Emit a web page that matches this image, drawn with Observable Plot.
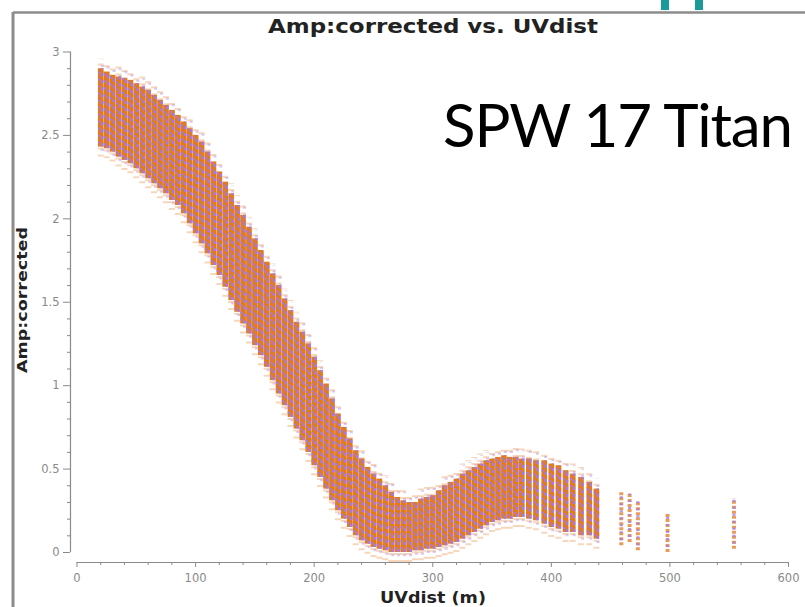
<!DOCTYPE html>
<html>
<head>
<meta charset="utf-8">
<script src="https://cdn.jsdelivr.net/npm/d3@7"></script>
<script src="https://cdn.jsdelivr.net/npm/@observablehq/plot@0.6"></script>
<style>
  html, body { margin: 0; padding: 0; background: #fff; }
  #chart { position: relative; width: 805px; height: 607px; overflow: hidden; }
</style>
</head>
<body>
<div id="chart"></div>
<script>
// ---- data (UV distance in m, amplitude range per baseline column) ----
const uvdist = [20,25,30,35,40,45,50,55,60,65,70,75,80,85,90,95,100,105,110,115,120,125,130,135,140,145,150,155,160,165,170,175,180,185,190,195,200,205,210,215,220,225,230,235,240,245,250,255,260,265,270,275,280,285,290,295,300,305,310,315,320,325,330,335,340,345,350,355,360,365,370,375,381,387,394,400,406,412,418,425,432,438];
const ampLow  = [2.43,2.42,2.40,2.37,2.35,2.33,2.30,2.27,2.24,2.21,2.18,2.15,2.11,2.08,2.03,1.97,1.91,1.85,1.79,1.72,1.66,1.59,1.51,1.44,1.37,1.31,1.24,1.18,1.11,1.03,0.95,0.88,0.81,0.74,0.67,0.60,0.52,0.45,0.38,0.31,0.25,0.20,0.15,0.10,0.07,0.05,0.03,0.02,0.01,0.00,0.00,0.00,0.00,0.01,0.01,0.02,0.02,0.03,0.04,0.05,0.06,0.08,0.10,0.12,0.14,0.16,0.18,0.19,0.20,0.20,0.21,0.21,0.20,0.19,0.17,0.15,0.14,0.12,0.12,0.10,0.10,0.08];
const ampHigh = [2.90,2.88,2.86,2.85,2.84,2.83,2.81,2.79,2.77,2.74,2.71,2.68,2.65,2.62,2.58,2.54,2.50,2.46,2.40,2.34,2.28,2.22,2.15,2.08,2.02,1.95,1.88,1.81,1.74,1.67,1.60,1.52,1.45,1.38,1.32,1.25,1.17,1.09,1.01,0.92,0.83,0.75,0.68,0.61,0.56,0.51,0.47,0.44,0.40,0.36,0.33,0.31,0.30,0.30,0.32,0.33,0.34,0.37,0.40,0.42,0.44,0.47,0.49,0.51,0.53,0.55,0.56,0.57,0.58,0.57,0.57,0.56,0.56,0.55,0.55,0.53,0.52,0.49,0.47,0.45,0.42,0.38];
// sparse long baselines
const outerUV   = [459,466,473,498,554];
const outerLow  = [0.04,0.06,0.01,0.00,0.02];
const outerHigh = [0.36,0.35,0.31,0.24,0.32];
// axis ticks
const xMajor = [0,100,200,300,400,500,600];
const xMinor = [20,40,60,80,120,140,160,180,220,240,260,280,320,340,360,380,420,440,460,480,520,540,560,580];
const yMajor = [0,0.5,1,1.5,2,2.5,3];
const yMinor = [0.1,0.2,0.3,0.4,0.6,0.7,0.8,0.9,1.1,1.2,1.3,1.4,1.6,1.7,1.8,1.9,2.1,2.2,2.3,2.4,2.6,2.7,2.8,2.9];

const main = uvdist.map((x, i) => ({x, lo: ampLow[i], hi: ampHigh[i]}));
const outer = outerUV.map((x, i) => ({x, lo: outerLow[i], hi: outerHigh[i]}));

const ORANGE = "#e27b1e";
const PURPLE = "#a47aea";
const tickColor = "#8a8a8a";

const plot = Plot.plot({
  width: 805,
  height: 607,
  marginLeft: 76.5,
  marginRight: 17,
  marginTop: 51.5,
  marginBottom: 55,
  style: {background: "transparent", fontFamily: "DejaVu Sans, sans-serif"},
  x: {domain: [0, 600], axis: null},
  y: {domain: [0, 3], axis: null},
  marks: [
    // fuzzy halo of scattered points
    Plot.ruleX(main, {x: "x", y1: d => d.lo - 0.06, y2: d => d.hi + 0.06, stroke: ORANGE, strokeOpacity: 0.3, strokeWidth: 6, strokeDasharray: "2,5"}),
    Plot.ruleX(main, {x: "x", y1: d => d.lo - 0.05, y2: d => d.hi + 0.05, stroke: PURPLE, strokeOpacity: 0.4, strokeWidth: 3, strokeDasharray: "2,5", strokeDashoffset: 3, dx: 1.5}),
    // dense core
    Plot.ruleX(main, {x: "x", y1: "lo", y2: "hi", stroke: ORANGE, strokeWidth: 5.6}),
    Plot.ruleX(main, {x: "x", y1: "lo", y2: "hi", stroke: PURPLE, strokeWidth: 2.6, strokeDasharray: "3,4", dx: 1.4}),
    Plot.ruleX(main, {x: "x", y1: "lo", y2: "hi", stroke: PURPLE, strokeWidth: 2.4, strokeDasharray: "2,5", strokeDashoffset: 4, dx: -1.4, strokeOpacity: 0.9}),
    // long baselines
    Plot.ruleX(outer, {x: "x", y1: "lo", y2: "hi", stroke: ORANGE, strokeWidth: 4, strokeOpacity: 0.75, strokeDasharray: "3,2"}),
    Plot.ruleX(outer, {x: "x", y1: "lo", y2: "hi", stroke: PURPLE, strokeWidth: 3, strokeOpacity: 0.8, strokeDasharray: "2,5", strokeDashoffset: 2}),
    // axes lines (detached)
    Plot.ruleX([0], {y1: 0, y2: 3, dx: -6.5, stroke: tickColor, strokeWidth: 1.2}),
    Plot.ruleY([0], {x1: 0, x2: 600, dy: 10, stroke: tickColor, strokeWidth: 1.2}),
    Plot.axisY({ticks: yMajor, tickSize: 7, tickPadding: 4, dx: -6.5, label: null, color: tickColor, fontSize: 11.5, tickFormat: d => String(d)}),
    Plot.axisY({ticks: yMinor, tickSize: 3, dx: -6.5, label: null, color: tickColor, text: null}),
    Plot.axisX({ticks: xMajor, tickSize: 5, tickPadding: 6, dy: 10, label: null, color: tickColor, fontSize: 11.5, tickFormat: d => String(d)}),
    Plot.axisX({ticks: xMinor, tickSize: 3, dy: 10, label: null, color: tickColor, text: null})
  ]
});

const container = document.getElementById("chart");
container.appendChild(plot);

// decorations / titles
const svg = d3.select(plot);
svg.append("line").attr("x1", 13).attr("x2", 805).attr("y1", 12.5).attr("y2", 12.5).attr("stroke", "#8c8c8c").attr("stroke-width", 2.5);
svg.append("line").attr("x1", 13).attr("x2", 13).attr("y1", 12).attr("y2", 607).attr("stroke", "#8c8c8c").attr("stroke-width", 3);
svg.append("rect").attr("x", 661).attr("y", 0).attr("width", 8).attr("height", 10).attr("fill", "#1a9a9a");
svg.append("rect").attr("x", 695).attr("y", 0).attr("width", 8).attr("height", 10).attr("fill", "#1a9a9a");

svg.append("text").attr("x", 433).attr("y", 33).attr("text-anchor", "middle")
  .attr("font-family", "DejaVu Sans, sans-serif").attr("font-weight", "bold").attr("font-size", 19).attr("fill", "#222")
  .attr("textLength", 330).attr("lengthAdjust", "spacingAndGlyphs")
  .text("Amp:corrected vs. UVdist");
svg.append("text").attr("x", 433).attr("y", 603).attr("text-anchor", "middle")
  .attr("font-family", "DejaVu Sans, sans-serif").attr("font-weight", "bold").attr("font-size", 15).attr("fill", "#222")
  .attr("textLength", 106).attr("lengthAdjust", "spacingAndGlyphs")
  .text("UVdist (m)");
svg.append("text").attr("transform", "translate(27,300) rotate(-90)").attr("text-anchor", "middle")
  .attr("font-family", "DejaVu Sans, sans-serif").attr("font-weight", "bold").attr("font-size", 14).attr("fill", "#222")
  .attr("textLength", 146).attr("lengthAdjust", "spacingAndGlyphs")
  .text("Amp:corrected");
svg.append("text").attr("x", 443).attr("y", 147).attr("text-anchor", "start")
  .attr("font-family", "Lato, sans-serif").attr("font-size", 60).attr("fill", "#000")
  .attr("textLength", 350).attr("lengthAdjust", "spacing")
  .text("SPW 17 Titan");
</script>
</body>
</html>
